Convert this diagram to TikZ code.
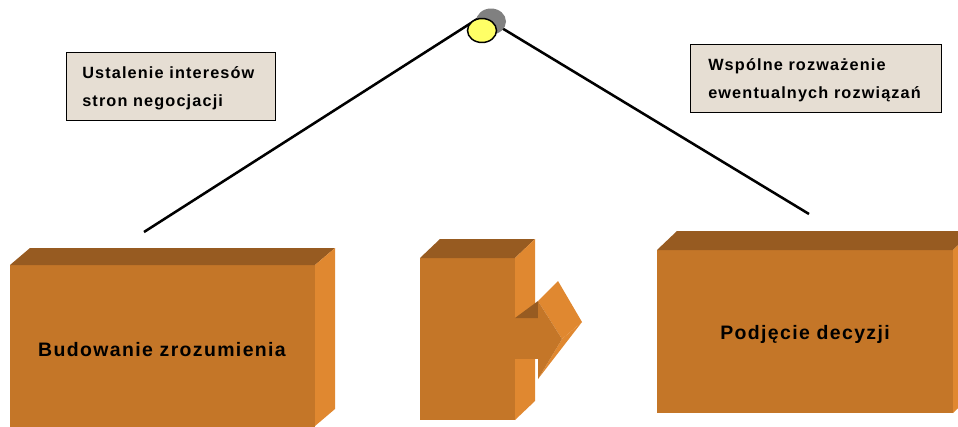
\documentclass[tikz,border=0pt]{standalone}
\usepackage{fontspec}
\usetikzlibrary{shapes.geometric}
\setmainfont{Liberation Sans}
\newfontfamily\lblfont[LetterSpace=7]{Liberation Sans}
\definecolor{boxfront}{HTML}{C47628}
\definecolor{boxtop}{HTML}{975B21}
\definecolor{boxside}{HTML}{E08830}
\definecolor{notefill}{HTML}{E6DED3}
\definecolor{knob}{HTML}{FFFF66}
\definecolor{knobshadow}{HTML}{808080}
\tikzset{
  front/.style={fill=boxfront},
  topface/.style={fill=boxtop},
  sideface/.style={fill=boxside},
  notebox/.style={draw=black, line width=1.1pt, fill=notefill, inner sep=0pt, anchor=north west},
  notetext/.style={font=\lblfont\bfseries\fontsize{12.2}{21.3}\selectfont, align=left, inner sep=0pt, anchor=base west},
  bigtext/.style={font=\lblfont\bfseries\fontsize{14.6}{17}\selectfont, inner sep=0pt, anchor=base},
  beam/.style={line width=1.9pt, black}
}
\begin{document}
\begin{tikzpicture}[x=0.75pt, y=-0.75pt]
\useasboundingbox (0,0) rectangle (958,426);
\clip (0,0) rectangle (958,426);
% left box
\fill[front] (10,265) rectangle (315,430);
\fill[topface] (10,265) -- (30,248) -- (335,248) -- (315,265) -- cycle;
\fill[sideface] (315,265) -- (335,248) -- (335,409) -- (315,426) -- cycle;
\node[bigtext] (bud) at (162,356) {Budowanie zrozumienia};
% middle box with arrow
\fill[front] (420,258) rectangle (515,420);
\fill[topface] (420,258) -- (440,239) -- (535,239) -- (515,258) -- cycle;
\fill[sideface] (515,258) -- (535,239) -- (535,401) -- (515,420) -- cycle;
\fill[front] (515,318) rectangle (539,359);
\fill[topface] (515,318) -- (538,301) -- (538,318) -- cycle;
\fill[sideface] (538,301) -- (558,281) -- (582,322) -- (562,339) -- cycle;
\fill[sideface] (562,339) -- (582,322) -- (538,379) -- cycle;
\fill[front] (538,301) -- (562,339) -- (538,379) -- cycle;
% right box
\fill[front] (657,250) rectangle (953,413);
\fill[topface] (657,250) -- (677,231) -- (973,231) -- (953,250) -- cycle;
\fill[sideface] (953,250) -- (973,231) -- (973,394) -- (953,413) -- cycle;
\node[bigtext] (dec) at (805,339) {Podjęcie decyzji};
% notes
\node[notebox, minimum width=156.75pt, minimum height=51pt] (note1) at (66,52) {};
\node[notetext] (t1) at (82,106.7) {Ustalenie interesów\\stron negocjacji};
\node[notebox, minimum width=188.25pt, minimum height=51pt] (note2) at (690,44) {};
\node[notetext] (t2) at (708,98.5) {Wspólne rozważenie\\ewentualnych rozwiązań};
% beams
\coordinate (apex) at (482,16);
\coordinate (lend) at (144,232);
\coordinate (rend) at (809,214);
\draw[beam] (lend) -- (apex) -- (rend);
\node[ellipse, fill=knobshadow, minimum width=22.5pt, minimum height=19.5pt, inner sep=0pt] (shadow) at (491,21.5) {};
\node[ellipse, draw=black, line width=1.1pt, fill=knob, minimum width=21.75pt, minimum height=18pt, inner sep=0pt] (knob) at (482,30.5) {};
\end{tikzpicture}
\end{document}
